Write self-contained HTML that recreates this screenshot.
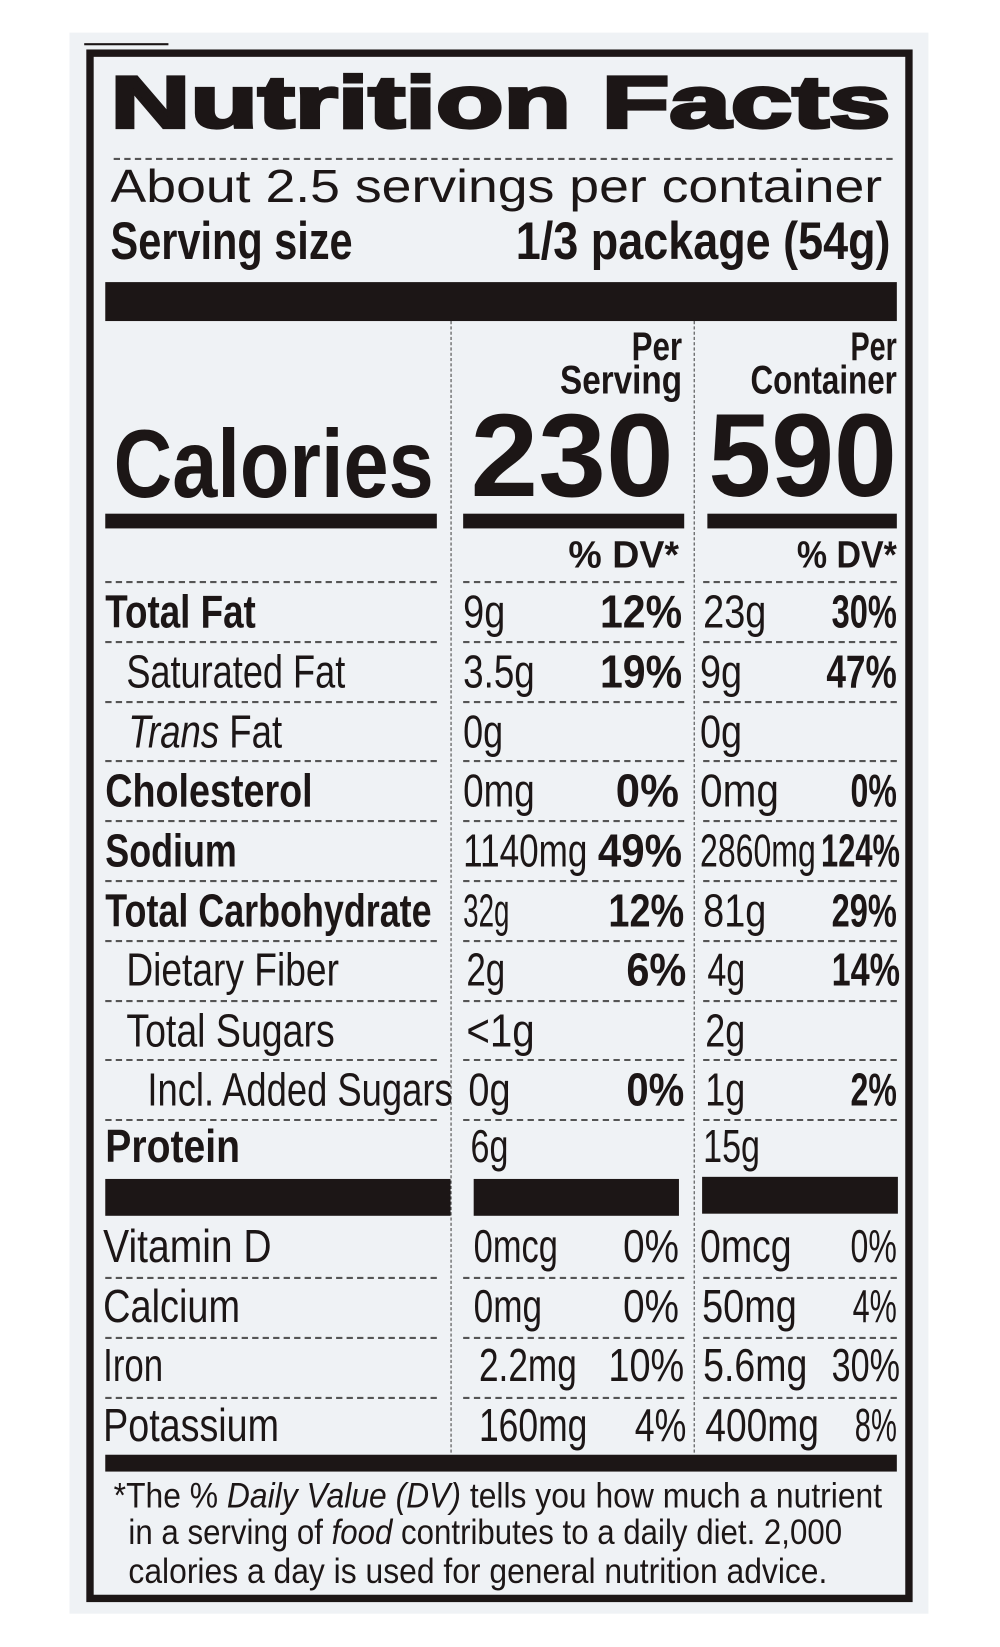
<!DOCTYPE html>
<html><head><meta charset="utf-8"><style>
html,body{margin:0;padding:0;background:#fff;width:1000px;height:1647px;overflow:hidden}
#c{position:absolute;left:0;top:0;width:950px;height:1565px;transform:scale(1.05263);transform-origin:0 0}
.bg{position:absolute;left:66px;top:31px;width:816px;height:1502px;background:#eff2f5}
.box{position:absolute;left:82px;top:47px;width:771px;height:1461px;border:7px solid #1c1616}
.t{position:absolute;white-space:nowrap;line-height:1;font-family:"Liberation Sans",sans-serif;color:#1c1616;transform-origin:0 0;font-size:44px}
.b{font-weight:bold}
.bar{position:absolute;background:#1c1616}
.hd{position:absolute;height:0;border-top:2px dashed #555}
.vd{position:absolute;width:0;border-left:1.5px dashed #444}
</style></head><body><div id="c">
<div class="bg"></div><div class="box"></div>
<div class="bar" style="left:80px;top:41px;width:80px;height:2px"></div>

<span class="t b" style="--a:105;--b:846;--c:96;font-size:70px;-webkit-text-stroke:3px #1c1616">Nutrition Facts</span>
<div class="hd" style="left:108px;top:150px;width:740px"></div>
<span class="t" style="--a:105;--b:838;--c:178;font-size:44px">About 2.5 servings per container</span>
<span class="t b" style="--a:105;--b:335;--c:228;font-size:50px">Serving size</span>
<span class="t b" style="--a:490;--b:846;--c:228;font-size:50px">1/3 package (54g)</span>
<div class="bar" style="left:100px;top:268px;width:752px;height:37px"></div>

<div class="vd" style="left:428px;top:305px;height:1075px"></div>
<div class="vd" style="left:659px;top:305px;height:1075px"></div>

<span class="t b" style="--a:600;--b:648;--c:330;font-size:38px">Per</span>
<span class="t b" style="--a:532;--b:648;--c:362;font-size:38px">Serving</span>
<span class="t b" style="--a:808;--b:852;--c:330;font-size:38px">Per</span>
<span class="t b" style="--a:713;--b:852;--c:362;font-size:38px">Container</span>
<span class="t b" style="--a:108;--b:412;--c:440;font-size:92px">Calories</span>
<span class="t b" style="--a:447;--b:640;--c:432;font-size:112px">230</span>
<span class="t b" style="--a:673;--b:852;--c:432;font-size:112px">590</span>
<div class="bar" style="left:100px;top:488px;width:315px;height:14px"></div>
<div class="bar" style="left:440px;top:488px;width:210px;height:14px"></div>
<div class="bar" style="left:672px;top:488px;width:180px;height:14px"></div>
<span class="t b" style="--a:540;--b:645;--c:527;font-size:36px">% DV*</span>
<span class="t b" style="--a:757;--b:852;--c:527;font-size:36px">% DV*</span>

<div id="seps"></div>

<span class="t b" style="--a:100;--b:243;--c:582">Total Fat</span>
<span class="t" style="--a:440;--b:480;--c:582">9g</span>
<span class="t b" style="--a:570;--b:648;--c:582">12%</span>
<span class="t" style="--a:668;--b:728;--c:582">23g</span>
<span class="t b" style="--a:790;--b:852;--c:582">30%</span>

<span class="t" style="--a:120;--b:328;--c:639">Saturated Fat</span>
<span class="t" style="--a:440;--b:508;--c:639">3.5g</span>
<span class="t b" style="--a:570;--b:648;--c:639">19%</span>
<span class="t" style="--a:665;--b:705;--c:639">9g</span>
<span class="t b" style="--a:785;--b:852;--c:639">47%</span>

<span class="t" style="--a:122;--b:268;--c:696"><i>Trans</i> Fat</span>
<span class="t" style="--a:440;--b:478;--c:696">0g</span>
<span class="t" style="--a:665;--b:705;--c:696">0g</span>

<span class="t b" style="--a:100;--b:297;--c:752">Cholesterol</span>
<span class="t" style="--a:440;--b:508;--c:752">0mg</span>
<span class="t b" style="--a:585;--b:645;--c:752">0%</span>
<span class="t" style="--a:665;--b:740;--c:752">0mg</span>
<span class="t b" style="--a:808;--b:852;--c:752">0%</span>

<span class="t b" style="--a:100;--b:225;--c:809">Sodium</span>
<span class="t" style="--a:440;--b:558;--c:809">1140mg</span>
<span class="t b" style="--a:568;--b:648;--c:809">49%</span>
<span class="t" style="--a:665;--b:775;--c:809">2860mg</span>
<span class="t b" style="--a:780;--b:855;--c:809">124%</span>

<span class="t b" style="--a:100;--b:410;--c:866">Total Carbohydrate</span>
<span class="t" style="--a:440;--b:484;--c:866">32g</span>
<span class="t b" style="--a:578;--b:650;--c:866">12%</span>
<span class="t" style="--a:668;--b:728;--c:866">81g</span>
<span class="t b" style="--a:790;--b:852;--c:866">29%</span>

<span class="t" style="--a:120;--b:322;--c:922">Dietary Fiber</span>
<span class="t" style="--a:443;--b:480;--c:922">2g</span>
<span class="t b" style="--a:595;--b:652;--c:922">6%</span>
<span class="t" style="--a:672;--b:708;--c:922">4g</span>
<span class="t b" style="--a:790;--b:855;--c:922">14%</span>

<span class="t" style="--a:120;--b:318;--c:980">Total Sugars</span>
<span class="t" style="--a:443;--b:508;--c:980">&lt;1g</span>
<span class="t" style="--a:670;--b:708;--c:980">2g</span>

<span class="t" style="--a:140;--b:430;--c:1036">Incl. Added Sugars</span>
<span class="t" style="--a:445;--b:485;--c:1036">0g</span>
<span class="t b" style="--a:595;--b:650;--c:1036">0%</span>
<span class="t" style="--a:670;--b:708;--c:1036">1g</span>
<span class="t b" style="--a:808;--b:852;--c:1036">2%</span>

<span class="t b" style="--a:100;--b:228;--c:1090">Protein</span>
<span class="t" style="--a:447;--b:483;--c:1090">6g</span>
<span class="t" style="--a:668;--b:722;--c:1090">15g</span>

<div class="bar" style="left:100px;top:1120px;width:328px;height:35px"></div>
<div class="bar" style="left:450px;top:1120px;width:195px;height:35px"></div>
<div class="bar" style="left:667px;top:1118px;width:186px;height:35px"></div>

<span class="t" style="--a:98;--b:258;--c:1185">Vitamin D</span>
<span class="t" style="--a:450;--b:530;--c:1185">0mcg</span>
<span class="t" style="--a:592;--b:645;--c:1185">0%</span>
<span class="t" style="--a:665;--b:752;--c:1185">0mcg</span>
<span class="t" style="--a:808;--b:852;--c:1185">0%</span>

<span class="t" style="--a:98;--b:228;--c:1242">Calcium</span>
<span class="t" style="--a:450;--b:515;--c:1242">0mg</span>
<span class="t" style="--a:592;--b:645;--c:1242">0%</span>
<span class="t" style="--a:667;--b:757;--c:1242">50mg</span>
<span class="t" style="--a:810;--b:852;--c:1242">4%</span>

<span class="t" style="--a:98;--b:155;--c:1298">Iron</span>
<span class="t" style="--a:455;--b:548;--c:1298">2.2mg</span>
<span class="t" style="--a:578;--b:650;--c:1298">10%</span>
<span class="t" style="--a:668;--b:767;--c:1298">5.6mg</span>
<span class="t" style="--a:790;--b:855;--c:1298">30%</span>

<span class="t" style="--a:98;--b:265;--c:1355">Potassium</span>
<span class="t" style="--a:455;--b:558;--c:1355">160mg</span>
<span class="t" style="--a:603;--b:652;--c:1355">4%</span>
<span class="t" style="--a:670;--b:778;--c:1355">400mg</span>
<span class="t" style="--a:812;--b:852;--c:1355">8%</span>

<div class="bar" style="left:100px;top:1382px;width:752px;height:16px"></div>

<span class="t" style="--a:108;--b:838;--c:1420;font-size:33px">*The % <i>Daily Value (DV)</i> tells you how much a nutrient</span>
<span class="t" style="--a:122;--b:800;--c:1455;font-size:33px">in a serving of <i>food</i> contributes to a daily diet. 2,000</span>
<span class="t" style="--a:122;--b:786;--c:1492;font-size:33px">calories a day is used for general nutrition advice.</span>
</div>
<script>
(function(){
var s=document.getElementById('seps'),h='';
var ys=[552,609,666,722,779,836,893,950,1006,1063,1213,1270,1327];
ys.forEach(function(y){
 h+='<div class="hd" style="left:100px;top:'+y+'px;width:315px"></div>';
 h+='<div class="hd" style="left:440px;top:'+y+'px;width:210px"></div>';
 h+='<div class="hd" style="left:668px;top:'+y+'px;width:184px"></div>';
});
s.innerHTML=h;
var els=document.querySelectorAll('.t');
for(var i=0;i<els.length;i++){
 var e=els[i],cs=getComputedStyle(e);
 var a=parseFloat(cs.getPropertyValue('--a')),b=parseFloat(cs.getPropertyValue('--b')),c=parseFloat(cs.getPropertyValue('--c'));
 var fs=parseFloat(cs.fontSize);
 var w=e.getBoundingClientRect().width/1.05263;
 e.style.left=a+'px';
 e.style.top=(c-0.49*fs)+'px';
 if(w>0)e.style.transform='scaleX('+((b-a)/w)+')';
}
})();
</script>
</body></html>
